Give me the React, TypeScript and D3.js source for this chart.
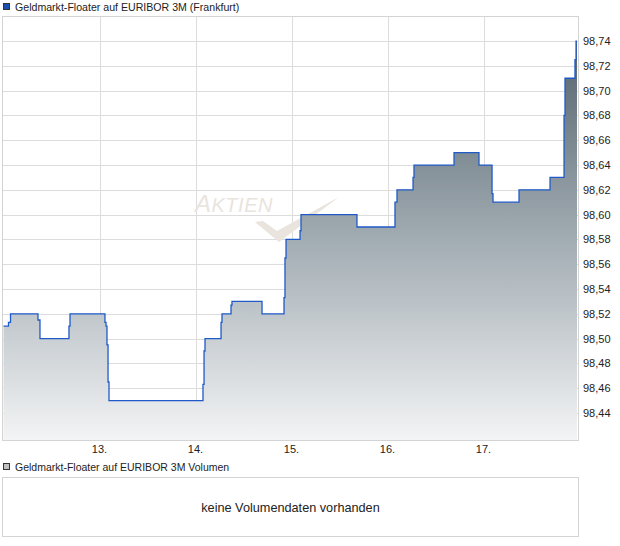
import React from "react";
import * as d3 from "d3";

const title = "Geldmarkt-Floater auf EURIBOR 3M (Frankfurt)";
const volumeTitle = "Geldmarkt-Floater auf EURIBOR 3M Volumen";
const noVolumeText = "keine Volumendaten vorhanden";

// time in day-of-month (fractional), price values
const times = [
  12.0, 12.052, 12.073, 12.359, 12.38, 12.682, 12.693, 13.057, 13.068, 13.078,
  13.089, 13.099, 14.078, 14.089, 14.099, 14.266, 14.276, 14.37, 14.38, 14.693,
  14.922, 14.932, 14.943, 15.089, 15.099, 15.682, 16.078, 16.099, 16.266, 16.276,
  16.693, 16.953, 17.089, 17.099, 17.37, 17.693, 17.839, 17.849, 17.953, 17.964,
  17.974,
];
const prices = [
  98.51, 98.513, 98.52, 98.515, 98.5, 98.51, 98.52, 98.513, 98.51, 98.495,
  98.465, 98.45, 98.463, 98.49, 98.5, 98.513, 98.52, 98.527, 98.53, 98.52,
  98.533, 98.565, 98.58, 98.587, 98.6, 98.59, 98.61, 98.62, 98.63, 98.64,
  98.65, 98.64, 98.617, 98.61, 98.62, 98.63, 98.68, 98.71, 98.725, 98.74,
  98.74,
];
const dayTicks = [13, 14, 15, 16, 17];
const dayLabels = ["13.", "14.", "15.", "16.", "17."];
const priceTicks = [98.44, 98.46, 98.48, 98.5, 98.52, 98.54, 98.56, 98.58, 98.6, 98.62, 98.64, 98.66, 98.68, 98.7, 98.72, 98.74];

const W = 620;
const H = 546;
const left = 3;
const right = 578;
const top = 17;
const bottom = 440;
const font = "Liberation Sans, Arial, sans-serif";

export default function App() {
  const x = d3.scaleLinear().domain([12, 18]).range([3.5, 579.5]);
  const y = d3.scaleLinear().domain([98.4182, 98.7594]).range([bottom, top]);
  const data = times.map((t, i) => ({ t, v: prices[i] }));
  const line = d3
    .line<{ t: number; v: number }>()
    .x((d) => x(d.t))
    .y((d) => y(d.v))
    .curve(d3.curveStepAfter);
  const area = d3
    .area<{ t: number; v: number }>()
    .x((d) => x(d.t))
    .y0(bottom)
    .y1((d) => y(d.v))
    .curve(d3.curveStepAfter);
  const fmt = (v: number) => d3.format(".2f")(v).replace(".", ",");

  return (
    <svg
      width={W}
      height={H}
      style={{ position: "absolute", left: 0, top: 0, background: "#fff" }}
      fontFamily={font}
    >
      <defs>
        <linearGradient id="fillGrad" gradientUnits="userSpaceOnUse" x1="0" y1={y(98.74)} x2="0" y2={bottom}>
          <stop offset="0" stopColor="#56646d" />
          <stop offset="0.45" stopColor="#9aa5ac" />
          <stop offset="1" stopColor="#f3f4f5" />
        </linearGradient>
        <clipPath id="plotClip">
          <rect x={left} y={top} width={right - left} height={bottom - top} />
        </clipPath>
      </defs>

      {/* title legend */}
      <rect x={3.5} y={3.5} width={6} height={6} fill="#1c50b0" stroke="#333" strokeWidth={1} />
      <text x={15} y={11} fontSize={10.6} fill="#222">{title}</text>

      {/* grid */}
      {priceTicks.map((p) => (
        <line key={p} x1={left} x2={right} y1={Math.round(y(p)) + 0.5} y2={Math.round(y(p)) + 0.5} stroke="#dcdcdc" />
      ))}
      {dayTicks.map((d) => (
        <line key={d} x1={Math.round(x(d)) + 0.5} x2={Math.round(x(d)) + 0.5} y1={top} y2={bottom} stroke="#dcdcdc" />
      ))}

      {/* watermark */}
      <g fill="#e9e4dd">
        <text x={195} y={212} fontStyle="italic" letterSpacing={0.5}>
          <tspan fontSize={24}>A</tspan>
          <tspan fontSize={20}>KTIEN</tspan>
        </text>
        <path d="M255,222 L263,221 L277,231 L339,197 L279,242 Z" />
      </g>

      <g clipPath="url(#plotClip)">
        <path d={area(data) ?? ""} fill="url(#fillGrad)" />
        <path d={line(data) ?? ""} fill="none" stroke="#1f5ac8" strokeWidth={1.3} />
      </g>

      {/* frame */}
      <rect x={left - 0.5} y={top - 0.5} width={right - left + 1} height={bottom - top + 1} fill="none" stroke="#d4d4d4" />

      {/* y labels */}
      {priceTicks.map((p) => (
        <text key={p} x={583} y={y(p) + 4} fontSize={11} fill="#222">{fmt(p)}</text>
      ))}
      {/* x labels */}
      {dayTicks.map((d, i) => (
        <text key={d} x={x(d)} y={453} fontSize={11} fill="#222" textAnchor="middle">{dayLabels[i]}</text>
      ))}

      {/* volume panel */}
      <rect x={3.5} y={463.5} width={6} height={6} fill="#c0c0c0" stroke="#333" strokeWidth={1} />
      <text x={15} y={471} fontSize={10.5} fill="#222">{volumeTitle}</text>
      <rect x={left - 0.5} y={477.5} width={right - left + 1} height={59} fill="none" stroke="#d4d4d4" />
      <text x={(left + right) / 2} y={512} fontSize={12.7} fill="#222" textAnchor="middle">{noVolumeText}</text>
    </svg>
  );
}
